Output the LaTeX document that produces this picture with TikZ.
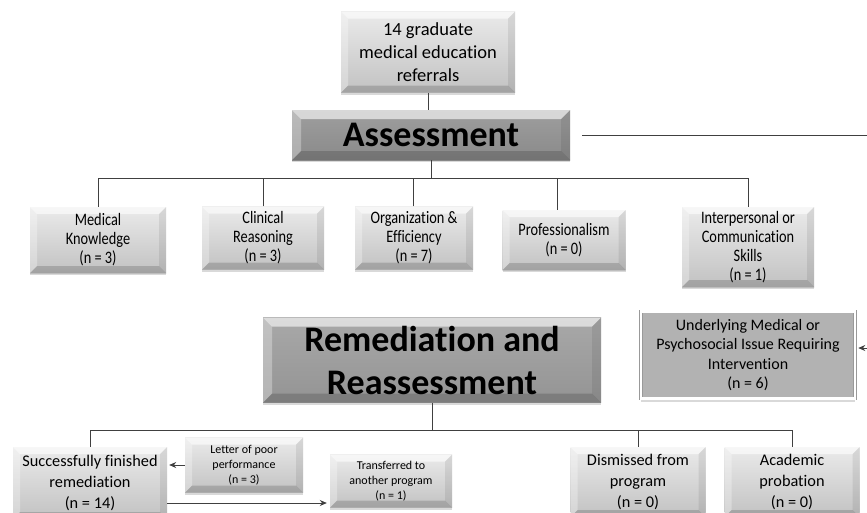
\documentclass[tikz,border=0pt]{standalone}
\usepackage{fontspec}
\setmainfont{Carlito}[Ligatures=NoCommon]
\newfontfamily\narrowfont{Carlito}[FakeStretch=0.82, Ligatures=NoCommon]
\usetikzlibrary{positioning, shadows, arrows.meta}
\tikzset{
    bevel/.style = {
        path picture = {
            \path (path picture bounding box.south west) coordinate (bvsw)
                  (path picture bounding box.north east) coordinate (bvne);
            \fill[white, opacity=.6] (bvsw |- bvne) -- (bvne) -- ([shift={(-#1,-#1)}]bvne)
                -- ([shift={(#1,-#1)}]bvsw |- bvne) -- cycle;
            \fill[white, opacity=.3] (bvsw) -- (bvsw |- bvne) -- ([shift={(#1,-#1)}]bvsw |- bvne)
                -- ([shift={(#1,#1)}]bvsw) -- cycle;
            \fill[black, opacity=.08] (bvne) -- (bvne |- bvsw) -- ([shift={(-#1,#1)}]bvne |- bvsw)
                -- ([shift={(-#1,-#1)}]bvne) -- cycle;
            \fill[black, opacity=.16] (bvsw) -- (bvne |- bvsw) -- ([shift={(-#1,#1)}]bvne |- bvsw)
                -- ([shift={(#1,#1)}]bvsw) -- cycle;
        }
    },
    bevel/.default = 7pt,
    block/.style = {
        inner sep = 0pt,
        align = center,
        font = \narrowfont\fontsize{17.5}{19}\selectfont,
        top color = black!8, bottom color = black!24,
        bevel,
        drop shadow = {shadow xshift=0pt, shadow yshift=-2pt, opacity=.3}
    },
    stage/.style = {
        block, bevel = 9pt,
        top color = black!38, bottom color = black!46,
        font = \fontsize{36}{43}\selectfont\bfseries
    },
    flagbox/.style = {
        inner sep = 0pt,
        align = center,
        font = \fontsize{16}{19.5}\selectfont,
        fill = black!30,
        draw = black!40, double = white, double distance = 2.5pt, line width = .5pt,
        drop shadow = {shadow xshift=0pt, shadow yshift=-3pt, opacity=.3}
    },
    small/.style = {font = \fontsize{12}{15}\selectfont},
    large/.style = {font = \fontsize{16.3}{21}\selectfont},
    line/.style = {draw = black!75, line width = .8pt},
    arr/.style = {line, -{Stealth[length=7pt, width=6pt]}}
}

\begin{document}
\begin{tikzpicture}[x=1pt, y=-1pt]

    \clip (0,0) rectangle (867,512);

    % top part
    \node[block, minimum width=174pt, minimum height=81pt, font=\fontsize{18.5}{23}\selectfont]
        (referrals) at (428,52) {14 graduate\\medical education\\referrals};
    \node[stage, minimum width=278pt, minimum height=50pt] (assess) at (431,135) {Assessment};

    \node[block, minimum width=136pt, minimum height=66pt] (medknow) at (98,240) {Medical\\Knowledge\\(n = 3)};
    \node[block, minimum width=122pt, minimum height=63pt] (clinreas) at (263,238) {Clinical\\Reasoning\\(n = 3)};
    \node[block, minimum width=118pt, minimum height=63pt] (orgeff) at (414,238) {Organization \&\\Efficiency\\(n = 7)};
    \node[block, minimum width=123pt, minimum height=60pt] (prof) at (564,240) {Professionalism\\(n = 0)};
    \node[block, minimum width=132pt, minimum height=80pt] (interp) at (748,247) {Interpersonal or\\Communication\\Skills\\(n = 1)};

    % lower part
    \node[stage, top color=black!34, bottom color=black!42, minimum width=338pt, minimum height=85pt]
        (remed) at (432,360) {Remediation and\\Reassessment};
    \node[flagbox, minimum width=214pt, minimum height=87pt] (underly) at (748,355)
        {Underlying Medical or\\Psychosocial Issue Requiring\\Intervention\\(n = 6)};

    \node[block, large, minimum width=154pt, minimum height=72pt] (success) at (90,483) {Successfully finished\\remediation\\(n = 14)};
    \node[block, small, minimum width=118pt, minimum height=55pt] (letter) at (244,465) {Letter of poor\\performance\\(n = 3)};
    \node[block, small, minimum width=122pt, minimum height=53pt] (transf) at (391,481) {Transferred to\\another program\\(n = 1)};
    \node[block, large, minimum width=135pt, minimum height=70pt] (dismiss) at (638,482) {Dismissed from\\program\\(n = 0)};
    \node[block, large, minimum width=135pt, minimum height=70pt] (probat) at (792,482) {Academic\\probation\\(n = 0)};

    \coordinate (busA) at (431,178);
    \coordinate (busR) at (432,430);
    \coordinate (offA) at (867,135);
    \coordinate (offU) at (867,348);

    % connectors
    \draw[line] (referrals.south) -- (referrals.south |- assess.north);
    \draw[line] (assess.south) -- (busA);
    \draw[line] (medknow.north) |- (interp.north |- busA) -- (interp.north);
    \draw[line] (clinreas.north) -- (clinreas.north |- busA);
    \draw[line] ([xshift=-1pt]orgeff.north) -- ([xshift=-1pt]orgeff.north |- busA);
    \draw[line] ([xshift=-7pt]prof.north) -- ([xshift=-7pt]prof.north |- busA);
    \draw[line] ([xshift=12pt]assess.east) -- (offA);
    \draw[arr, shorten >=3pt] (offU) -- (underly.east |- offU);

    \draw[line] (remed.south) -- (busR);
    \draw[line] (success.north) |- (probat.north |- busR) -- (probat.north);
    \draw[line] (dismiss.north) -- (dismiss.north |- busR);
    \draw[arr, shorten >=2pt] (letter.west) -- (letter.west -| success.east);
    \draw[arr, shorten >=3pt] ([yshift=-20pt]success.east) -- ([yshift=-20pt]success.east -| transf.west);

\end{tikzpicture}
\end{document}
